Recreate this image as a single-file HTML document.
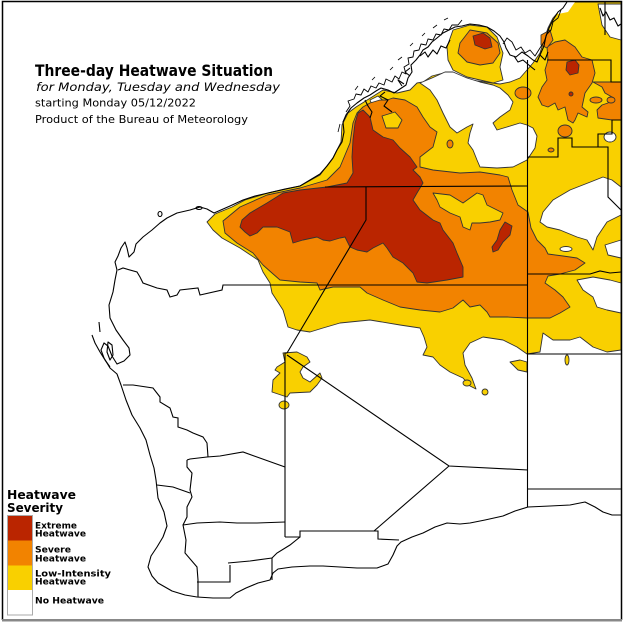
<!DOCTYPE html>
<html><head><meta charset="utf-8"><style>
html,body{margin:0;padding:0;background:#fff;}
svg{display:block;}
text{font-family:"DejaVu Sans","Liberation Sans",sans-serif;fill:#000;}
</style></head><body>
<svg width="628" height="623" viewBox="0 0 628 623" xmlns="http://www.w3.org/2000/svg">
<rect x="0" y="0" width="628" height="623" fill="#fff"/>
<g stroke="#333" stroke-width="0.9" stroke-linejoin="round">
<!-- Yellow main -->
<path fill="#F9D000" d="M207,222 L215,214 L232,207 L245,200 L268,193 L300,186 L320,175 L333,158 L341,142 L342,125 L348,113 L356,107 L364,102 L372,97 L383,90 L397,93 L410,90 L417,83 L423,82 L432,76 L447,72 L470,80 L500,84 L510,82 L520,78 L527,70 L533,63 L540,53 L544,40 L548,28 L553,18 L560,10 L566,2 L621,2 L621,350 L607,352 L593,347 L580,337 L570,340 L553,340 L543,333 L540,352 L527,354 L517,347 L503,340 L483,337 L470,343 L463,353 L465,365 L472,378 L476,389 L470,386 L463,378 L450,372 L440,365 L433,357 L423,355 L427,347 L424,337 L420,328 L400,325 L370,320 L340,323 L323,328 L310,332 L297,330 L288,327 L283,310 L272,293 L270,283 L263,272 L258,260 L240,248 L222,238 L213,230 Z"/>
<path fill="#F9D000" d="M510,362 L520,360 L527,362 L527,372 L518,370 Z"/>
<path fill="#F9D000" d="M285,362 L283,353 L297,352 L307,357 L310,362 L303,367 L300,372 L303,378 L310,382 L320,373 L322,378 L317,385 L310,392 L290,393 L287,397 L272,392 L273,380 L280,373 L275,370 L277,367 Z"/>
<ellipse cx="284" cy="405" rx="5" ry="4" fill="#F9D000"/>
<ellipse cx="467" cy="383" rx="4" ry="3" fill="#F9D000"/>
<ellipse cx="485" cy="392" rx="3" ry="3" fill="#F9D000"/>
<ellipse cx="567" cy="360" rx="2" ry="5" fill="#F9D000"/>
<!-- white holes -->
<path fill="#fff" d="M420,83 L430,90 L437,100 L443,113 L450,127 L457,133 L467,127 L473,124 L470,133 L468,143 L473,150 L477,160 L480,167 L497,168 L513,167 L527,160 L535,148 L537,136 L533,128 L527,125 L520,123 L507,127 L497,130 L493,123 L500,117 L510,110 L513,102 L508,95 L500,88 L493,85 L480,82 L467,78 L453,72 L445,72 L432,78 Z"/>
<path fill="#fff" d="M540,222 L543,212 L553,200 L570,190 L593,181 L603,177 L612,180 L621,187 L621,215 L607,222 L597,237 L593,250 L587,240 L577,237 L560,230 L547,227 Z"/>
<path fill="#fff" d="M605,245 L621,240 L621,258 L608,255 Z"/>
<path fill="#fff" d="M577,280 L593,277 L610,280 L621,283 L621,313 L607,310 L597,307 L593,297 L583,290 Z"/>
<path fill="#fff" stroke="none" d="M553,2 L575,2 L568,12 L558,14 Z"/>
<path fill="#fff" d="M598,4 L621,4 L621,40 L610,37 L602,25 Z"/>
<ellipse cx="610" cy="137" rx="6" ry="5" fill="#fff"/>
<ellipse cx="566" cy="249" rx="6" ry="2.5" fill="#fff"/>
<path fill="#fff" d="M370,100 L378,96 L386,103 L388,112 L382,118 L375,112 Z"/>
<!-- Kalumburu blob -->
<path fill="#F9D000" d="M447,47 L448,60 L453,70 L467,77 L480,80 L493,83 L503,80 L500,67 L503,53 L497,37 L487,27 L470,25 L453,30 Z"/>
<!-- Orange -->
<path fill="#F28300" d="M223,221 L240,207 L267,195 L300,188 L327,180 L340,167 L350,143 L353,123 L357,113 L363,107 L370,103 L380,100 L387,100 L393,98 L405,100 L417,107 L423,117 L430,127 L437,132 L433,147 L420,157 L420,167 L433,170 L460,173 L480,172 L500,175 L508,177 L512,190 L518,205 L528,212 L531,228 L537,240 L545,248 L548,254 L563,256 L577,258 L585,263 L575,270 L560,274 L548,276 L545,283 L555,290 L563,297 L570,307 L560,313 L550,318 L527,318 L507,317 L490,317 L487,312 L480,305 L470,307 L463,300 L453,308 L440,312 L420,310 L400,307 L383,300 L367,293 L360,287 L333,287 L320,290 L317,283 L300,282 L280,280 L272,273 L263,265 L253,253 L237,243 L225,233 Z"/>
<path fill="#F9D000" d="M382,116 L395,112 L402,120 L398,128 L386,128 Z"/>
<path fill="#F9D000" d="M433,193 L450,195 L463,203 L477,193 L483,195 L487,205 L497,210 L503,213 L500,220 L490,222 L480,223 L472,223 L470,230 L463,227 L460,217 L450,213 L440,207 L437,200 Z"/>
<path fill="#F28300" d="M460,43 L470,30 L487,33 L498,43 L500,53 L493,63 L480,65 L467,62 L458,53 Z"/>
<path fill="#F28300" d="M547,47 L555,42 L565,40 L575,47 L582,57 L592,60 L595,73 L592,83 L585,93 L582,107 L588,112 L587,117 L578,113 L575,120 L573,123 L568,120 L565,107 L558,110 L555,103 L548,107 L542,105 L538,97 L542,87 L547,80 L545,70 L548,60 Z"/>
<path fill="#F28300" d="M593,82 L621,82 L621,120 L612,120 L598,118 L597,110 L602,105 L608,103 L612,97 L605,93 L602,87 Z"/>
<path fill="#F28300" d="M541,35 L550,30 L553,40 L547,48 L541,45 Z"/>
<ellipse cx="523" cy="93" rx="8" ry="6" fill="#F28300"/>
<ellipse cx="565" cy="131" rx="7" ry="6" fill="#F28300"/>
<ellipse cx="551" cy="150" rx="3" ry="2" fill="#F28300"/>
<ellipse cx="596" cy="100" rx="6" ry="3" fill="#F28300"/>
<ellipse cx="611" cy="100" rx="4" ry="3" fill="#F28300"/>
<ellipse cx="450" cy="144" rx="3" ry="4" fill="#F28300"/>
<!-- Red -->
<path fill="#BA2500" d="M358,113 L363,110 L370,117 L373,130 L383,137 L393,140 L400,148 L410,157 L417,167 L413,170 L420,177 L423,183 L417,193 L413,200 L420,210 L433,220 L440,223 L443,230 L453,243 L457,253 L463,267 L463,277 L447,280 L427,283 L417,282 L413,273 L403,263 L393,257 L387,248 L383,243 L373,248 L367,252 L357,250 L350,247 L345,237 L340,238 L330,241 L323,240 L317,237 L303,240 L293,243 L290,232 L277,227 L263,227 L257,233 L250,236 L245,232 L240,227 L242,220 L250,213 L267,203 L283,193 L300,190 L327,187 L347,183 L353,173 L352,157 L353,140 L355,123 Z"/>
<path fill="#BA2500" d="M505,222 L512,226 L510,235 L503,242 L498,250 L493,252 L492,247 L497,240 L500,230 Z"/>
<path fill="#BA2500" d="M473,36 L483,33 L490,38 L492,47 L485,49 L475,45 Z"/>
<path fill="#BA2500" d="M567,62 L575,60 L579,65 L578,73 L570,75 L566,70 Z"/>
<circle cx="571" cy="94" r="2" fill="#BA2500"/>
</g>
<!-- coastline -->
<g fill="none" stroke="#000" stroke-width="1.1" stroke-linejoin="round">
<path d="M567,2 L563,8 L558,12 L553,20 L549,28 L546,36 L544,46 L540,55 L537,62 L533,60 L528,56 L522,52 L516,57 L510,55 L506,48 L504,42 L500,36 L494,31 L487,27 L479,25 L470,24 L462,26 L455,27 L449,30 L443,33 L437,38 L432,42 L428,47 L423,50 L420,55 L416,60 L411,65 L412,72 L408,78 L406,85 L400,89 L394,93 L388,90 L381,88 L376,91 L370,95 L364,98 L357,103 L351,108 L346,115 L343,122 L344,132 L342,142 L337,150 L333,158 L327,166 L320,174 L310,180 L300,186 L285,189 L268,193 L255,196 L243,200 L230,206 L214,213 L207,209 L200,207 L190,210 L177,213 L167,218 L160,223 L152,230 L143,237 L136,244 L134,252 L129,257 L127,248 L125,242 L121,248 L118,256 L115,262 L117,270 L115,280 L113,292 L109,305 L110,318 L116,330 L123,340 L129,348 L130,355 L124,361 L117,364 L112,356 L108,346 L104,343 L101,350 L104,358 L110,368 L117,374 L121,385 L126,400 L132,415 L140,428 L146,440 L150,455 L154,468 L156,480 L158,498 L164,512 L167,526 L163,537 L157,547 L151,556 L148,567 L152,576 L158,583 L172,591 L185,595 L197,597 L213,598 L222,598 L230,598 L236,593 L246,588 L258,583 L270,580 L273,573 L278,569 L292,567 L310,566 L323,566 L340,567 L357,568 L377,568 L388,564 L393,555 L397,546 L401,542 L412,537 L423,533 L435,527 L447,523 L460,524 L470,523 L485,520 L503,516 L515,511 L528,507 L550,506 L570,505 L585,502 L595,507 L603,512 L612,515 L621,515"/>
<path d="M92,335 L95,343 L100,352 L105,360 L110,367"/>
<path d="M108,342 L112,345 L113,355 L110,360 L107,352 Z"/>
<path d="M99,322 L100,332"/>
<path d="M420,56 L425,52 L428,57 L433,50 L437,54 L441,46 L446,48 L450,40 M410,68 L405,72 L410,76 M404,84 L398,80 L402,86 M385,92 L380,96 L388,100 L384,106 L392,112 M365,100 L368,106 L372,112 L370,118 M514,56 L518,62 L523,60 L530,66 L535,70 M540,55 L545,60 L548,52 M600,8 L603,16 L606,12 L610,20 L614,18 L618,26 L621,24"/>
<path stroke-width="0.9" d="M346,112 L350,106 L348,101 L354,99 L356,94 L361,95 L364,89 L368,92 L371,86 L376,88 L379,83 L384,85 L386,79 L392,82 L395,76 L399,79 L402,72 L406,74 L404,67 L409,64 L408,58 L413,57 L414,51 L419,50 L421,44 L426,45 L428,39 L433,40 L436,34 L441,35 L444,29 L449,30 L452,25 L458,25 L462,20"/>
<path stroke-width="0.9" d="M503,44 L507,38 L512,42 L516,50 L521,47 L525,53 L530,50 L535,56 L540,48 L544,42 L547,34 L551,30 L553,22 L558,18 L561,10"/>
<path stroke-width="0.8" d="M338,132 L340,124 M355,90 L358,86 M372,80 L375,77 M390,70 L393,67 M398,60 L402,57 M410,46 L413,43 M422,36 L425,33 M433,28 L437,25 M444,20 L448,18"/>
<ellipse cx="160" cy="214" rx="2" ry="2.5"/>
<ellipse cx="199" cy="208" rx="3" ry="1.5"/>
</g>
<!-- district/state boundaries -->
<g fill="none" stroke="#000" stroke-width="1.1">
<path d="M325,187 L527,186"/>
<path d="M366,187 L366,220 L287,353"/>
<path d="M118,270 L123,268 L137,272 L140,277 L143,283 L157,288 L167,290 L170,297 L177,295 L180,290 L198,288 L200,295 L222,290 L223,285 L243,285 L527,285"/>
<path d="M287,353 L285,353 L285,537"/>
<path d="M287,355 L449,466 L528,470"/>
<path d="M449,466 L374,531"/>
<path d="M285,537 L300,537 L300,531 L378,531 L378,539 L399,540"/>
<path d="M300,537 L290,545 L277,553 L272,558"/>
<path d="M285,467 L243,452 L220,456 L207,457 L190,459 L187,460"/>
<path d="M183,525 L197,523 L220,522 L237,523 L257,523 L285,522"/>
<path d="M123,385 L133,385 L153,388 L160,397 L160,402 L170,408 L173,417 L178,418 L178,427 L187,430 L193,433 L203,437 L207,443 L208,457"/>
<path d="M187,460 L187,467 L192,473 L190,490 L192,497 L187,507 L187,517 L183,525 L186,540 L185,553 L197,567 L198,580 L198,597"/>
<path d="M157,485 L173,487 L190,493"/>
<path d="M228,563 L250,561 L272,558 M230,565 L230,582 L197,582 M272,558 L272,580"/>
<path d="M527.5,60 L527.5,507"/>
<path d="M547,60 L611,60 L611,82 L621,82"/>
<path d="M527.5,157 L558,157 L558,138 L572,138 L572,147 L608,147 L608,197 L621,210"/>
<path d="M621,120 L612,120 L612,134 L598,134 L598,147"/>
<path d="M527.5,274 L590,274 L600,271 L610,273 L621,272"/>
<path d="M527.5,354 L621,354"/>
<path d="M528,489 L621,489"/>
<path d="M605,2 L605,35"/>
</g>
<!-- frame -->
<path d="M2.5,620 L2.5,1.5 L621.5,1.5 L621.5,620" fill="none" stroke="#000" stroke-width="1.5"/>
<rect x="2" y="619" width="620" height="2.5" fill="#888"/>
<!-- title -->
<text x="35" y="76" font-size="16" font-weight="bold" textLength="238" lengthAdjust="spacingAndGlyphs">Three-day Heatwave Situation</text>
<text x="36" y="91" font-size="11.5" font-style="italic" textLength="244" lengthAdjust="spacingAndGlyphs">for Monday, Tuesday and Wednesday</text>
<text x="35" y="106.5" font-size="11" textLength="161" lengthAdjust="spacingAndGlyphs">starting Monday 05/12/2022</text>
<text x="35" y="123" font-size="11" textLength="213" lengthAdjust="spacingAndGlyphs">Product of the Bureau of Meteorology</text>
<!-- legend -->
<text x="7" y="499" font-size="12.5" font-weight="bold" textLength="69" lengthAdjust="spacingAndGlyphs">Heatwave</text>
<text x="7" y="512" font-size="12.5" font-weight="bold" textLength="56" lengthAdjust="spacingAndGlyphs">Severity</text>
<rect x="7" y="516" width="25" height="24.5" fill="#BA2500"/>
<rect x="7" y="540.5" width="25" height="25" fill="#F28300"/>
<rect x="7" y="565.5" width="25" height="24.5" fill="#F9D000"/>
<rect x="7" y="590" width="25" height="25" fill="#fff"/>
<rect x="7.5" y="515.5" width="25" height="99.5" fill="none" stroke="#aaa" stroke-width="1"/>
<g font-size="9" font-weight="bold">
<text x="35" y="528.3" textLength="42" lengthAdjust="spacingAndGlyphs">Extreme</text>
<text x="35" y="536.7" textLength="51" lengthAdjust="spacingAndGlyphs">Heatwave</text>
<text x="35" y="552.7" textLength="36" lengthAdjust="spacingAndGlyphs">Severe</text>
<text x="35" y="561.3" textLength="51" lengthAdjust="spacingAndGlyphs">Heatwave</text>
<text x="35" y="576.7" textLength="76" lengthAdjust="spacingAndGlyphs">Low-Intensity</text>
<text x="35" y="584.6" textLength="51" lengthAdjust="spacingAndGlyphs">Heatwave</text>
<text x="35" y="603.3" textLength="69" lengthAdjust="spacingAndGlyphs">No Heatwave</text>
</g>
</svg>
</body></html>
